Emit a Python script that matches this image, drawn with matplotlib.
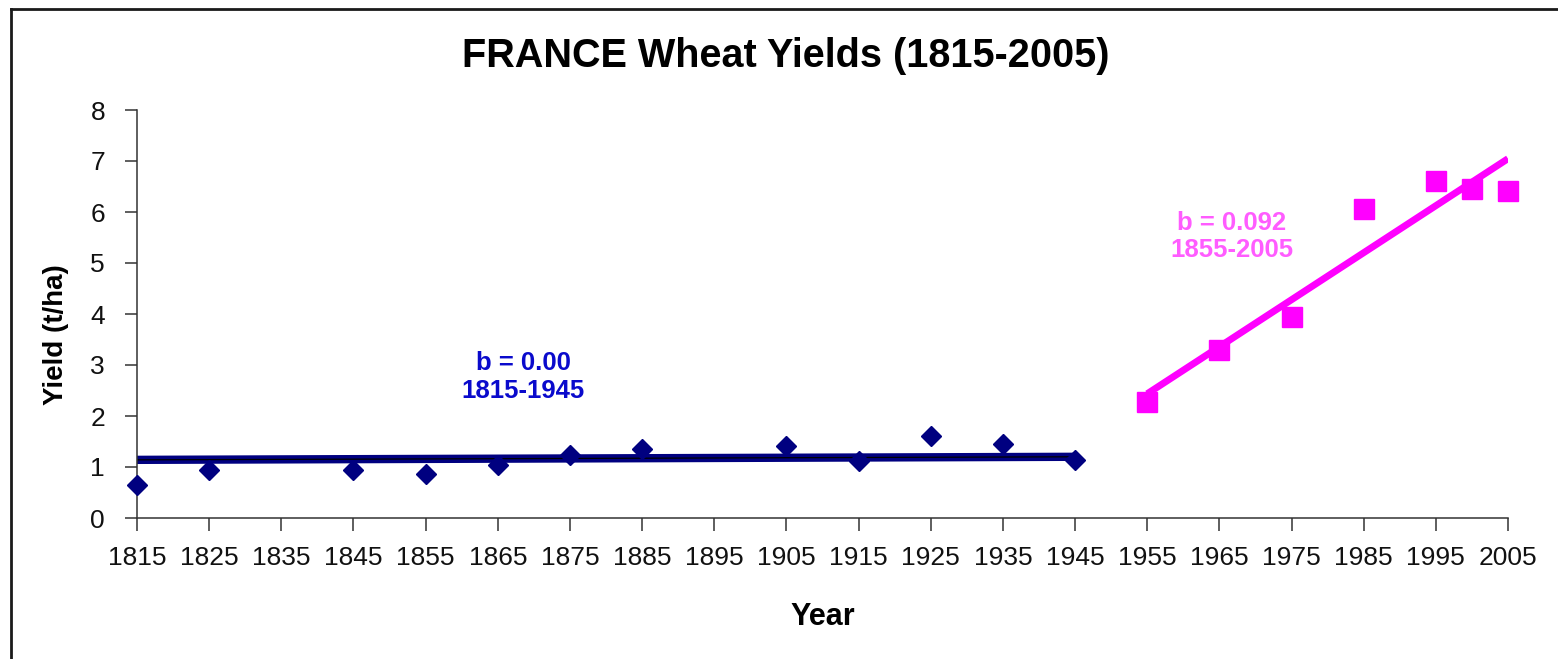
import numpy as np
import matplotlib
matplotlib.use('Agg')
import matplotlib.pyplot as plt
from matplotlib.lines import Line2D

# --- data ---
years_early = [1815, 1825, 1845, 1855, 1865, 1875, 1885, 1905, 1915, 1925, 1935, 1945]
yield_early = [0.65, 0.95, 0.95, 0.86, 1.04, 1.24, 1.35, 1.41, 1.12, 1.61, 1.46, 1.14]

years_late = [1955, 1965, 1975, 1985, 1995, 2000, 2005]
yield_late = [2.27, 3.29, 3.94, 6.05, 6.61, 6.46, 6.41]

# trend line of the early period as drawn in the chart (nearly flat)
trend_early_years = [1815, 1945]
trend_early_vals = [1.14, 1.20]

x_ticks = list(range(1815, 2006, 10))
y_ticks = list(range(0, 9))

title = 'FRANCE Wheat Yields (1815-2005)'
label_early = 'b = 0.00\n1815-1945'
label_late = 'b = 0.092\n1855-2005'

plt.rcParams['font.family'] = ['Liberation Sans', 'DejaVu Sans']

NAVY = '#000080'
MAGENTA = '#FF00FF'

fig = plt.figure(figsize=(15.58, 6.59), dpi=100)
ax = fig.add_axes([137 / 1558, 1 - 518 / 659, (1508 - 137) / 1558, (518 - 110) / 659])

# early period: trend line + diamonds
ax.plot(trend_early_years, trend_early_vals, color=NAVY, lw=6, solid_capstyle='butt', zorder=2)
ax.plot(trend_early_years, trend_early_vals, color='black', lw=0.9, zorder=2.5)
ax.plot(years_early, yield_early, 'D', color=NAVY, ms=10.5, ls='none', clip_on=False, zorder=3)

# late period: linear fit + squares
slope, icpt = np.polyfit(years_late, yield_late, 1)
fit_x = np.array([years_late[0], years_late[-1]])
ax.plot(fit_x, slope * fit_x + icpt, color=MAGENTA, lw=5, solid_capstyle='butt', zorder=2)
ax.plot(years_late, yield_late, 's', color=MAGENTA, ms=14, ls='none', clip_on=False, zorder=3)

ax.text(1868.5, 2.76, label_early, color='#0A0ACC', fontsize=18.5, fontweight='bold',
        ha='center', va='center', linespacing=1.2)
ax.text(1966.7, 5.52, label_late, color='#FF5CFF', fontsize=18.5, fontweight='bold',
        ha='center', va='center', linespacing=1.2)

ax.set_xlim(1815, 2005)
ax.set_ylim(0, 8)
ax.set_xticks(x_ticks)
ax.set_yticks(y_ticks)
ax.tick_params(axis='both', direction='out', length=9, width=1.1, colors='#333333',
               labelcolor='#111111', labelsize=19)
ax.tick_params(axis='x', pad=11)
ax.tick_params(axis='y', pad=14)
for side in ['top', 'right']:
    ax.spines[side].set_visible(False)
for side in ['left', 'bottom']:
    ax.spines[side].set_linewidth(1.1)
    ax.spines[side].set_color('#333333')

fig.text(786 / 1558, 1 - 67 / 659, title, fontsize=28.5, fontweight='bold', ha='center', va='baseline')
fig.text(823 / 1558, 1 - 625 / 659, 'Year', fontsize=22, fontweight='bold', ha='center', va='baseline')
fig.text(56 / 1558, 1 - 335 / 659, 'Yield (t/ha)', fontsize=20, fontweight='bold',
         rotation=90, ha='center', va='center')

# outer frame (left and top edges visible)
fx = 10.5 / 1558
fy = 1 - 8.5 / 659
fig.add_artist(Line2D([fx, fx], [-0.01, fy], transform=fig.transFigure, color='#1a1a1a', lw=2))
fig.add_artist(Line2D([fx, 1.01], [fy, fy], transform=fig.transFigure, color='#1a1a1a', lw=2))

fig.savefig('out.png', dpi=100, facecolor='white')
